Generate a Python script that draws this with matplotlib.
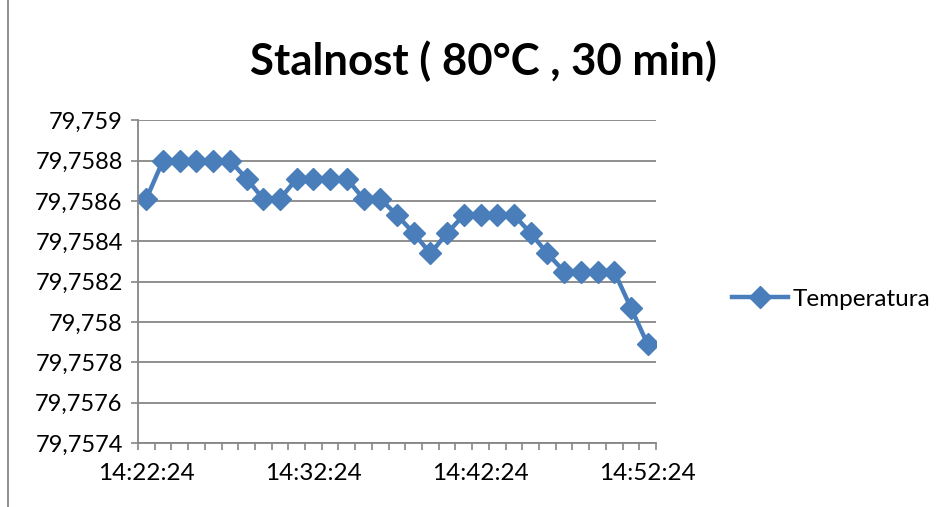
import matplotlib.pyplot as plt
from matplotlib.lines import Line2D
from matplotlib.ticker import FuncFormatter

plt.rcParams['font.family'] = ['Lato', 'DejaVu Sans']

# data
times = ["14:%02d:24" % m for m in range(22, 53)]
temps = [79.75861, 79.75880, 79.75880, 79.75880, 79.75880, 79.75880,
         79.75871, 79.75861, 79.75861, 79.75871, 79.75871, 79.75871,
         79.75871, 79.75861, 79.75861, 79.75853, 79.75844, 79.75834,
         79.75844, 79.75853, 79.75853, 79.75853, 79.75853, 79.75844,
         79.75834, 79.75825, 79.75825, 79.75825, 79.75825, 79.75807,
         79.75789]
y_ticks = [79.7574, 79.7576, 79.7578, 79.758, 79.7582, 79.7584, 79.7586, 79.7588, 79.759]

fig = plt.figure(figsize=(9.47, 5.07), dpi=100)
ax = fig.add_axes([0.1457, 0.126, 0.5470, 0.637])

idx = list(range(len(times)))
ax.plot(idx, temps, color="#4A7EBB", lw=3.2, marker="D", markersize=11,
        label="Temperatura")

ax.set_ylim(79.7574, 79.759)
ax.set_yticks(y_ticks)
ax.yaxis.set_major_formatter(FuncFormatter(lambda v, p: ("%g" % round(v, 4)).replace(".", ",")))
ax.grid(axis="y", color="#868686", lw=1.3)
ax.set_axisbelow(True)

ax.set_xlim(-0.5, len(times) - 0.5)
ax.set_xticks(idx[::10])
ax.set_xticklabels(times[::10])
ax.set_xticks([i - 0.5 for i in range(len(times) + 1)], minor=True)
ax.tick_params(axis="x", which="major", length=0, pad=14, labelsize=17.5)
ax.tick_params(axis="x", which="minor", length=5, color="#868686", width=1.2)
ax.tick_params(axis="y", length=5, color="#868686", width=1.2, labelsize=17, pad=6)

for s in ["top", "right"]:
    ax.spines[s].set_visible(False)
for s in ["left", "bottom"]:
    ax.spines[s].set_color("#868686")
    ax.spines[s].set_linewidth(1.3)

fig.suptitle("Stalnost ( 80°C , 30 min)", fontsize=31.5, fontweight="bold", x=0.51, y=0.92)

fig.legend(handles=[Line2D([], [], color="#4A7EBB", lw=3.2, marker="D", markersize=11)],
           labels=["Temperatura"], loc="center left", bbox_to_anchor=(0.75, 0.41),
           frameon=False, fontsize=17.5, handlelength=2.3, handletextpad=0.2)

fig.add_artist(Line2D([0.0085, 0.0085], [0, 1], color="#868686", lw=1.3, transform=fig.transFigure))

plt.savefig("out.png", dpi=100)
